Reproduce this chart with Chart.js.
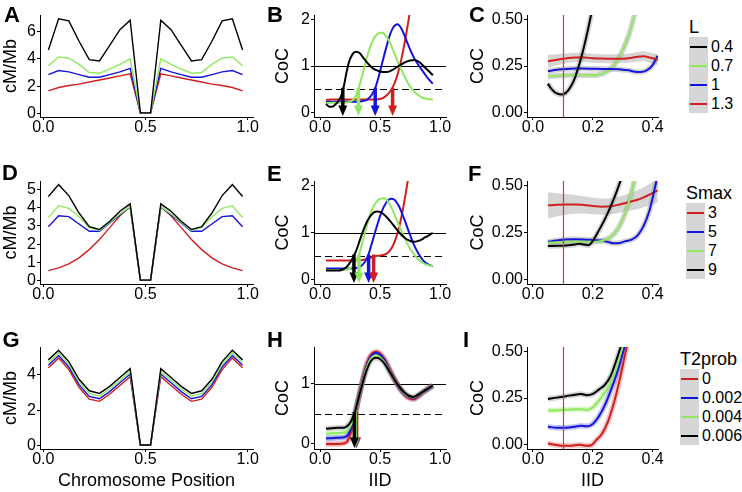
<!DOCTYPE html>
<html>
<head>
<meta charset="utf-8">
<script src="https://cdn.jsdelivr.net/npm/chart.js@4.4.1/dist/chart.umd.min.js"></script>
<style>
    body { margin: 0; background: #fff; }
    #fig { position: relative; width: 742px; height: 492px; overflow: hidden; font-family: "Liberation Sans", Arial, sans-serif; color: #000; }
    #fig canvas { position: absolute; }
    .tag { position: absolute; font-weight: bold; font-size: 22px; line-height: 22px; }
    .lg-title { position: absolute; font-size: 18px; line-height: 18px; }
    .lg-key { position: absolute; background: #d6d6d6; }
    .lg-line { position: absolute; height: 2px; }
    .lg-lab { position: absolute; font-size: 16px; line-height: 16px; }
</style>
</head>
<body>
<div id="fig"></div>
<script>
    // colours of the four parameter levels
    var BLACK = '#000000', GREEN = '#8fe85f', BLUE = '#1414dc', RED = '#d01f1f', VLINE = '#d43a3a';

    // ---- column 1: recombination rate along the chromosome ----
    var chromPos = [0.025, 0.075, 0.125, 0.175, 0.225, 0.275, 0.325, 0.375, 0.425, 0.475,
                    0.525, 0.575, 0.625, 0.675, 0.725, 0.775, 0.825, 0.875, 0.925, 0.975];

    var rateA_04 = [4.65, 6.95, 6.8, 5.3, 3.95, 3.85, 5.0, 6.15, 6.85, 0.03, 0.03, 6.85, 6.15, 5.0, 3.85, 3.95, 5.3, 6.8, 6.95, 4.65];
    var rateA_07 = [3.5, 4.15, 4.05, 3.6, 3.0, 2.95, 3.25, 3.6, 4.0, 0.03, 0.03, 4.0, 3.6, 3.25, 2.95, 3.0, 3.6, 4.05, 4.15, 3.5];
    var rateA_1 = [2.85, 3.15, 3.05, 2.85, 2.65, 2.65, 2.85, 3.05, 3.3, 0.03, 0.03, 3.3, 3.05, 2.85, 2.65, 2.65, 2.85, 3.05, 3.15, 2.85];
    var rateA_13 = [1.65, 1.9, 2.05, 2.15, 2.3, 2.45, 2.6, 2.75, 2.9, 0.03, 0.03, 2.9, 2.75, 2.6, 2.45, 2.3, 2.15, 2.05, 1.9, 1.65];

    var rateD_3 = [0.55, 0.7, 0.92, 1.25, 1.7, 2.25, 2.9, 3.55, 4.05, 0.03, 0.03, 4.05, 3.55, 2.9, 2.25, 1.7, 1.25, 0.92, 0.7, 0.55];
    var rateD_5 = [2.95, 3.55, 3.5, 3.1, 2.7, 2.7, 3.15, 3.6, 4.05, 0.03, 0.03, 4.05, 3.6, 3.15, 2.7, 2.7, 3.1, 3.5, 3.55, 2.95];
    var rateD_7 = [3.45, 4.1, 3.95, 3.5, 2.9, 2.75, 3.2, 3.65, 4.05, 0.03, 0.03, 4.05, 3.65, 3.2, 2.75, 2.9, 3.5, 3.95, 4.1, 3.45];
    var rateD_9 = [4.6, 5.25, 4.65, 3.7, 2.95, 2.8, 3.25, 3.8, 4.2, 0.03, 0.03, 4.2, 3.8, 3.25, 2.8, 2.95, 3.7, 4.65, 5.25, 4.6];

    var rateG_0 = [4.4, 4.95, 4.3, 3.3, 2.62, 2.5, 2.9, 3.4, 3.9, 0.03, 0.03, 3.9, 3.4, 2.9, 2.5, 2.62, 3.3, 4.3, 4.95, 4.4];
    var rateG_002 = [4.55, 5.1, 4.45, 3.45, 2.78, 2.65, 3.05, 3.55, 4.05, 0.03, 0.03, 4.05, 3.55, 3.05, 2.65, 2.78, 3.45, 4.45, 5.1, 4.55];
    var rateG_004 = [4.7, 5.25, 4.6, 3.6, 2.95, 2.8, 3.2, 3.7, 4.2, 0.03, 0.03, 4.2, 3.7, 3.2, 2.8, 2.95, 3.6, 4.6, 5.25, 4.7];
    var rateG_006 = [4.85, 5.4, 4.75, 3.75, 3.1, 2.95, 3.35, 3.85, 4.35, 0.03, 0.03, 4.35, 3.85, 3.35, 2.95, 3.1, 3.75, 4.75, 5.4, 4.85];

    // ---- column 2: CoC against IID, [IID, CoC] ----
    var cocB_04 = [[0.05,0.18],[0.08,0.12],[0.11,0.13],[0.14,0.2],[0.16,0.27],[0.18,0.38],[0.2,0.58],[0.22,0.85],[0.24,1.07],[0.27,1.25],[0.3,1.31],[0.33,1.28],[0.36,1.18],[0.4,1.05],[0.44,0.95],[0.48,0.9],[0.52,0.87],[0.56,0.87],[0.6,0.91],[0.65,0.99],[0.7,1.07],[0.75,1.12],[0.79,1.13],[0.83,1.08],[0.87,0.98],[0.91,0.88],[0.94,0.8]];
    var cocB_07 = [[0.05,0.2],[0.1,0.21],[0.15,0.21],[0.2,0.21],[0.24,0.22],[0.27,0.26],[0.3,0.37],[0.32,0.5],[0.35,0.78],[0.38,1.08],[0.41,1.35],[0.44,1.55],[0.47,1.67],[0.51,1.72],[0.54,1.68],[0.58,1.52],[0.62,1.27],[0.66,1.02],[0.7,0.8],[0.74,0.6],[0.78,0.46],[0.82,0.37],[0.86,0.31],[0.9,0.29],[0.94,0.28]];
    var cocB_1 = [[0.05,0.23],[0.1,0.23],[0.15,0.23],[0.2,0.23],[0.25,0.23],[0.3,0.23],[0.35,0.24],[0.39,0.27],[0.42,0.34],[0.44,0.42],[0.46,0.52],[0.49,0.78],[0.52,1.08],[0.55,1.38],[0.58,1.65],[0.61,1.83],[0.645,1.9],[0.68,1.8],[0.72,1.55],[0.76,1.3],[0.8,1.1],[0.84,0.95],[0.88,0.8],[0.91,0.7],[0.94,0.62]];
    var cocB_13 = [[0.05,0.27],[0.1,0.28],[0.15,0.28],[0.2,0.28],[0.25,0.28],[0.3,0.28],[0.35,0.28],[0.4,0.28],[0.45,0.28],[0.5,0.29],[0.53,0.32],[0.56,0.38],[0.59,0.47],[0.62,0.62],[0.65,0.85],[0.68,1.17],[0.71,1.57],[0.74,2.02],[0.77,2.5]];
    var arrowsB = [0.19, 0.32, 0.46, 0.605];

    var cocE_3 = [[0.05,0.4],[0.1,0.4],[0.15,0.4],[0.2,0.4],[0.25,0.4],[0.3,0.4],[0.35,0.41],[0.4,0.44],[0.45,0.49],[0.5,0.51],[0.54,0.53],[0.57,0.58],[0.6,0.68],[0.63,0.86],[0.66,1.12],[0.69,1.48],[0.72,1.92],[0.75,2.4]];
    var cocE_5 = [[0.05,0.23],[0.1,0.23],[0.15,0.23],[0.2,0.23],[0.25,0.23],[0.3,0.24],[0.34,0.28],[0.37,0.36],[0.4,0.5],[0.43,0.75],[0.47,1.1],[0.51,1.42],[0.55,1.63],[0.59,1.72],[0.62,1.7],[0.66,1.55],[0.7,1.3],[0.74,1.02],[0.78,0.75],[0.82,0.55],[0.86,0.4],[0.9,0.32],[0.94,0.28]];
    var cocE_7 = [[0.05,0.2],[0.1,0.2],[0.15,0.2],[0.2,0.2],[0.24,0.22],[0.27,0.28],[0.3,0.4],[0.32,0.5],[0.35,0.75],[0.38,1.05],[0.42,1.4],[0.46,1.62],[0.5,1.72],[0.53,1.73],[0.57,1.65],[0.61,1.45],[0.65,1.2],[0.69,0.97],[0.73,0.75],[0.77,0.58],[0.81,0.45],[0.85,0.36],[0.89,0.31],[0.94,0.28]];
    var cocE_9 = [[0.05,0.19],[0.1,0.19],[0.15,0.19],[0.18,0.2],[0.21,0.24],[0.24,0.32],[0.27,0.44],[0.3,0.6],[0.33,0.82],[0.36,1.04],[0.4,1.27],[0.44,1.41],[0.47,1.45],[0.5,1.44],[0.54,1.37],[0.58,1.26],[0.62,1.13],[0.66,1.0],[0.7,0.9],[0.74,0.83],[0.78,0.8],[0.82,0.82],[0.86,0.87],[0.9,0.93],[0.94,0.99]];
    var arrowsE = [0.283, 0.325, 0.405, 0.447];

    var cocH_0 = [[0.05,0.0],[0.1,0.0],[0.15,0.0],[0.2,0.01],[0.23,0.05],[0.26,0.2],[0.29,0.45],[0.32,0.74],[0.35,1.02],[0.38,1.27],[0.41,1.43],[0.44,1.51],[0.47,1.53],[0.5,1.5],[0.54,1.4],[0.58,1.24],[0.62,1.08],[0.66,0.94],[0.7,0.83],[0.74,0.76],[0.78,0.74],[0.82,0.79],[0.86,0.86],[0.9,0.92],[0.94,0.97]];
    var cocH_002 = [[0.05,0.09],[0.1,0.095],[0.15,0.1],[0.2,0.11],[0.23,0.14],[0.26,0.27],[0.29,0.48],[0.32,0.75],[0.35,1.01],[0.38,1.24],[0.41,1.4],[0.44,1.49],[0.47,1.51],[0.5,1.48],[0.54,1.38],[0.58,1.22],[0.62,1.07],[0.66,0.94],[0.7,0.84],[0.74,0.78],[0.78,0.76],[0.82,0.8],[0.86,0.86],[0.9,0.91],[0.94,0.97]];
    var cocH_004 = [[0.05,0.17],[0.1,0.175],[0.15,0.18],[0.2,0.19],[0.23,0.22],[0.26,0.32],[0.29,0.5],[0.32,0.75],[0.35,1.0],[0.38,1.22],[0.41,1.37],[0.44,1.45],[0.47,1.47],[0.5,1.44],[0.54,1.35],[0.58,1.21],[0.62,1.07],[0.66,0.95],[0.7,0.85],[0.74,0.79],[0.78,0.77],[0.82,0.81],[0.86,0.86],[0.9,0.92],[0.94,0.97]];
    var cocH_006 = [[0.05,0.25],[0.1,0.26],[0.15,0.27],[0.2,0.27],[0.23,0.3],[0.26,0.38],[0.29,0.52],[0.32,0.75],[0.35,0.98],[0.38,1.18],[0.41,1.33],[0.44,1.41],[0.47,1.43],[0.5,1.41],[0.54,1.33],[0.58,1.2],[0.62,1.07],[0.66,0.95],[0.7,0.86],[0.74,0.8],[0.78,0.78],[0.82,0.82],[0.86,0.87],[0.9,0.92],[0.94,0.97]];
    var arrowsH = [0.305, 0.3, 0.295, 0.287];

    var cocRef = 1, cocHalf = 0.5, arrowTop = 0.53;

    // ---- column 3: CoC at small IID ----
    var cocC_04 = [[0.05,0.155],[0.06,0.13],[0.07,0.113],[0.08,0.102],[0.095,0.096],[0.11,0.105],[0.125,0.135],[0.14,0.185],[0.155,0.26],[0.17,0.35],[0.185,0.455],[0.2,0.57]];
    var cocC_07 = [[0.05,0.193],[0.08,0.197],[0.11,0.2],[0.14,0.201],[0.17,0.2],[0.2,0.2],[0.22,0.203],[0.24,0.213],[0.26,0.235],[0.28,0.275],[0.3,0.335],[0.32,0.415],[0.335,0.5],[0.35,0.6]];
    var cocC_1 = [[0.05,0.222],[0.08,0.23],[0.11,0.234],[0.14,0.236],[0.17,0.236],[0.2,0.235],[0.23,0.234],[0.26,0.234],[0.29,0.232],[0.32,0.227],[0.34,0.219],[0.36,0.217],[0.38,0.226],[0.4,0.255],[0.417,0.305]];
    var cocC_13 = [[0.05,0.275],[0.08,0.284],[0.11,0.291],[0.14,0.296],[0.17,0.296],[0.2,0.292],[0.23,0.29],[0.26,0.289],[0.29,0.289],[0.32,0.292],[0.35,0.3],[0.37,0.302],[0.39,0.296],[0.417,0.283]];
    var bandC_13 = [0.035, 0.03, 0.027, 0.025, 0.024, 0.024, 0.024, 0.024, 0.024, 0.025, 0.026, 0.027, 0.028, 0.03];

    var cocF_3 = [[0.05,0.395],[0.08,0.398],[0.11,0.4],[0.14,0.4],[0.17,0.397],[0.2,0.392],[0.23,0.388],[0.26,0.39],[0.29,0.4],[0.32,0.412],[0.35,0.425],[0.38,0.445],[0.4,0.46],[0.417,0.475]];
    var bandF_3 = [0.07, 0.062, 0.055, 0.05, 0.046, 0.044, 0.043, 0.043, 0.044, 0.046, 0.05, 0.055, 0.06, 0.065];
    var cocF_5 = [[0.05,0.2],[0.08,0.207],[0.11,0.212],[0.14,0.214],[0.17,0.213],[0.2,0.21],[0.23,0.207],[0.25,0.2],[0.27,0.192],[0.29,0.194],[0.31,0.204],[0.33,0.212],[0.35,0.235],[0.37,0.285],[0.39,0.37],[0.405,0.47],[0.42,0.58]];
    var cocF_7 = [[0.05,0.195],[0.08,0.198],[0.11,0.2],[0.14,0.2],[0.17,0.2],[0.2,0.2],[0.22,0.202],[0.24,0.21],[0.26,0.226],[0.28,0.26],[0.3,0.32],[0.32,0.41],[0.335,0.5],[0.35,0.6]];
    var cocF_9 = [[0.05,0.178],[0.08,0.179],[0.11,0.181],[0.14,0.186],[0.155,0.19],[0.17,0.186],[0.185,0.182],[0.2,0.205],[0.22,0.26],[0.24,0.32],[0.26,0.39],[0.28,0.47],[0.3,0.56]];

    var cocI_0 = [[0.05,0.005],[0.08,-0.004],[0.1,-0.008],[0.13,-0.007],[0.155,-0.002],[0.18,-0.008],[0.195,-0.005],[0.21,0.02],[0.23,0.055],[0.25,0.12],[0.27,0.22],[0.29,0.35],[0.31,0.5],[0.33,0.64]];
    var cocI_002 = [[0.05,0.095],[0.08,0.09],[0.11,0.09],[0.14,0.095],[0.16,0.1],[0.18,0.097],[0.2,0.11],[0.22,0.15],[0.24,0.21],[0.26,0.29],[0.28,0.38],[0.3,0.49],[0.315,0.58]];
    var cocI_004 = [[0.05,0.182],[0.08,0.183],[0.11,0.186],[0.14,0.19],[0.16,0.19],[0.18,0.185],[0.2,0.2],[0.22,0.235],[0.24,0.28],[0.26,0.33],[0.28,0.42],[0.3,0.53]];
    var cocI_006 = [[0.05,0.245],[0.08,0.252],[0.11,0.26],[0.14,0.268],[0.16,0.272],[0.18,0.265],[0.2,0.272],[0.22,0.295],[0.24,0.32],[0.26,0.37],[0.28,0.46],[0.3,0.56]];

    var iidCutoff = 0.1;

    // ---- axis ranges and ticks ----
    var posRange = [-0.016, 1.026], iidRange = [-0.05, 1.05], smallRange = [-0.02, 0.418];
    var posTicks = [0, 0.5, 1], posLabels = ['0.0', '0.5', '1.0'];
    var smallTicks = [0, 0.2, 0.4], smallLabels = ['0.0', '0.2', '0.4'];
    var rangeA = [-0.27, 7.23], ticksA = [0, 2, 4, 6];
    var rangeD = [-0.18, 5.45], ticksD = [0, 1, 2, 3, 4, 5];
    var rangeG = [-0.2, 5.58], ticksG = [0, 2, 4];
    var rangeBE = [-0.1, 2.1], ticksBE = [0, 1, 2];
    var rangeH = [-0.085, 1.61], ticksH = [0, 1];
    var rangeSmall = [-0.025, 0.525], ticksSmall = [0, 0.25, 0.5], labelsSmall = ['0.00', '0.25', '0.50'];

    // ---- legends ----
    var legL = { title: 'L', labels: ['0.4', '0.7', '1', '1.3'], colors: [BLACK, GREEN, BLUE, RED] };
    var legSmax = { title: 'Smax', labels: ['3', '5', '7', '9'], colors: [RED, BLUE, GREEN, BLACK] };
    var legT2 = { title: 'T2prob', labels: ['0', '0.002', '0.004', '0.006'], colors: [RED, BLUE, GREEN, BLACK] };

    var fig = document.getElementById('fig');
    var FONT = '"Liberation Sans", Arial, sans-serif';

    function rateSeries(vals, color, order) {
        return {
            data: chromPos.map(function(x, i) { return { x: x, y: vals[i] }; }),
            borderColor: color, borderWidth: 1.4, pointRadius: 0, fill: false, tension: 0, order: order
        };
    }

    function curve(points, color, width, order) {
        return {
            data: points.map(function(p) { return { x: p[0], y: p[1] }; }),
            borderColor: color, borderWidth: width, pointRadius: 0, fill: false,
            cubicInterpolationMode: 'monotone', order: order
        };
    }

    // wide translucent line under a curve, stands in for a thin smoothing band
    function halo(points, color, order) {
        return curve(points, color, 5.5, order);
    }

    // grey confidence band: upper line filled down to the lower one
    function band(points, half) {
        var up = curve(points.map(function(p, i) { return [p[0], p[1] + half[i]]; }), 'rgba(0,0,0,0)', 0, 30);
        var lo = curve(points.map(function(p, i) { return [p[0], p[1] - half[i]]; }), 'rgba(0,0,0,0)', 0, 30);
        up.fill = '+1';
        up.backgroundColor = 'rgba(150,150,150,0.4)';
        return [up, lo];
    }

    // reference lines (CoC = 1 / 0.5, IID cutoff), pixel-snapped so they stay crisp
    var refPlugin = {
        id: 'refs',
        beforeDatasetsDraw: function(chart, args, opts) {
            var ctx = chart.ctx, a = chart.chartArea, ys = chart.scales.y;
            (opts.h || []).forEach(function(h) {
                var py = Math.round(ys.getPixelForValue(h.y)) + 0.5;
                ctx.save();
                ctx.strokeStyle = '#000';
                ctx.lineWidth = 1;
                ctx.setLineDash(h.dash);
                ctx.beginPath();
                ctx.moveTo(a.left, py);
                ctx.lineTo(a.right, py);
                ctx.stroke();
                ctx.restore();
            });
        },
        afterDatasetsDraw: function(chart, args, opts) {
            var ctx = chart.ctx, a = chart.chartArea, xs = chart.scales.x;
            (opts.v || []).forEach(function(v) {
                var px = Math.round(xs.getPixelForValue(v)) + 0.5;
                ctx.save();
                ctx.strokeStyle = VLINE;
                ctx.lineWidth = 1.2;
                ctx.beginPath();
                ctx.moveTo(px, a.top);
                ctx.lineTo(px, a.bottom);
                ctx.stroke();
                ctx.restore();
            });
        }
    };

    // thick down arrows from CoC = 0.5 to the x axis
    var arrowPlugin = {
        id: 'arrows',
        afterDatasetsDraw: function(chart, args, opts) {
            if (!opts.items) return;
            var ctx = chart.ctx;
            var xs = chart.scales.x, ys = chart.scales.y;
            var top = ys.getPixelForValue(arrowTop);
            var tip = chart.chartArea.bottom - 1;
            opts.items.forEach(function(a) {
                var px = xs.getPixelForValue(a.x);
                ctx.save();
                ctx.strokeStyle = a.color;
                ctx.fillStyle = a.color;
                ctx.lineWidth = 3.5;
                ctx.beginPath();
                ctx.moveTo(px, top);
                ctx.lineTo(px, tip - 8);
                ctx.stroke();
                ctx.beginPath();
                ctx.moveTo(px - 4.5, tip - 10.5);
                ctx.lineTo(px + 4.5, tip - 10.5);
                ctx.lineTo(px, tip);
                ctx.closePath();
                ctx.fill();
                ctx.restore();
            });
        }
    };

    function scaleOpts(range, ticks, labels, size, sizeKey, title) {
        return {
            type: 'linear',
            min: range[0],
            max: range[1],
            afterBuildTicks: function(s) { s.ticks = ticks.map(function(v) { return { value: v }; }); },
            afterFit: function(s) { s[sizeKey] = size; },
            grid: { display: true, drawOnChartArea: false, drawTicks: true, tickLength: 3, color: '#000', lineWidth: 1 },
            border: { display: true, color: '#000', width: 1 },
            ticks: {
                color: '#000', padding: sizeKey === 'width' ? 1 : 0, maxRotation: 0, autoSkip: false,
                font: { family: FONT, size: 16, lineHeight: 1 },
                callback: function(v, i) { return labels[i]; }
            },
            title: { display: !!title, text: title || '', color: '#000', padding: 0, font: { family: FONT, size: 18 } }
        };
    }

    function panel(p) {
        var c = document.createElement('canvas');
        c.width = p.w;
        c.height = p.h;
        c.style.left = p.left + 'px';
        c.style.top = p.top + 'px';
        c.style.width = p.w + 'px';
        c.style.height = p.h + 'px';
        fig.appendChild(c);

        new Chart(c.getContext('2d'), {
            type: 'line',
            data: { datasets: p.datasets },
            options: {
                responsive: false,
                animation: false,
                devicePixelRatio: 1,
                events: [],
                layout: { padding: { top: 10, right: 15, bottom: 0, left: 0 } },
                scales: {
                    x: scaleOpts(p.xr, p.xt, p.xl, p.xh, 'height', p.xTitle),
                    y: scaleOpts(p.yr, p.yt, p.yl || p.yt.map(String), p.yw, 'width', p.yTitle)
                },
                plugins: {
                    legend: { display: false },
                    tooltip: { enabled: false },
                    arrows: { items: p.arrows || null },
                    refs: { h: p.hlines || [], v: p.vlines || [] }
                }
            },
            plugins: [refPlugin, arrowPlugin]
        });
    }

    function tag(text, left, top) {
        var d = document.createElement('div');
        d.className = 'tag';
        d.textContent = text;
        d.style.left = left + 'px';
        d.style.top = top + 'px';
        fig.appendChild(d);
    }

    function legend(lg, left, top) {
        var t = document.createElement('div');
        t.className = 'lg-title';
        t.textContent = lg.title;
        t.style.left = left + 'px';
        t.style.top = (top - 19) + 'px';
        fig.appendChild(t);

        var key = document.createElement('div');
        key.className = 'lg-key';
        key.style.left = left + 'px';
        key.style.top = top + 'px';
        key.style.width = '19px';
        key.style.height = (19 * lg.labels.length) + 'px';
        fig.appendChild(key);

        for (var i = 0; i < lg.labels.length; i++) {
            var cy = top + 19 * i + 9.5;
            var ln = document.createElement('div');
            ln.className = 'lg-line';
            ln.style.left = (left + 1) + 'px';
            ln.style.width = '17px';
            ln.style.top = (cy - 1) + 'px';
            ln.style.background = lg.colors[i];
            fig.appendChild(ln);

            var lab = document.createElement('div');
            lab.className = 'lg-lab';
            lab.textContent = lg.labels[i];
            lab.style.left = (left + 22) + 'px';
            lab.style.top = (cy - 7.9) + 'px';
            fig.appendChild(lab);
        }
    }

    function arrowItems(xs, colors) {
        return xs.map(function(x, i) { return { x: x, color: colors[i] }; });
    }

    function withAlpha(hex, a) {
        var n = parseInt(hex.slice(1), 16);
        return 'rgba(' + (n >> 16) + ',' + ((n >> 8) & 255) + ',' + (n & 255) + ',' + a + ')';
    }

    // geometry of the three columns and rows
    var col1 = { left: 0, w: 268, yw: 40 };
    var col2 = { left: 272, w: 189, yw: 42 };
    var col3 = { left: 467, w: 206, yw: 60 };
    var row1 = { top: 5, h: 137, xh: 25 };
    var row2 = { top: 171, h: 138, xh: 25 };
    var row3 = { top: 337, h: 155, xh: 43 };

    function place(col, row, extra) {
        var p = { left: col.left, w: col.w, yw: col.yw, top: row.top, h: row.h, xh: row.xh };
        for (var k in extra) p[k] = extra[k];
        return p;
    }

    var grey = 'rgba(160,160,160,0.45)';
    var cocLines = [{ y: cocRef, dash: [] }, { y: cocHalf, dash: [7, 4] }];

    // A
    panel(place(col1, row1, {
        xr: posRange, xt: posTicks, xl: posLabels, yr: rangeA, yt: ticksA, yTitle: 'cM/Mb',
        datasets: [rateSeries(rateA_13, RED, 4), rateSeries(rateA_1, BLUE, 3), rateSeries(rateA_07, GREEN, 2), rateSeries(rateA_04, BLACK, 1)]
    }));
    // D
    panel(place(col1, row2, {
        xr: posRange, xt: posTicks, xl: posLabels, yr: rangeD, yt: ticksD, yTitle: 'cM/Mb',
        datasets: [rateSeries(rateD_3, RED, 4), rateSeries(rateD_5, BLUE, 3), rateSeries(rateD_7, GREEN, 2), rateSeries(rateD_9, BLACK, 1)]
    }));
    // G
    panel(place(col1, row3, {
        xr: posRange, xt: posTicks, xl: posLabels, yr: rangeG, yt: ticksG, yTitle: 'cM/Mb', xTitle: 'Chromosome Position',
        datasets: [rateSeries(rateG_0, RED, 4), rateSeries(rateG_002, BLUE, 3), rateSeries(rateG_004, GREEN, 2), rateSeries(rateG_006, BLACK, 1)]
    }));

    // B
    panel(place(col2, row1, {
        xr: iidRange, xt: posTicks, xl: posLabels, yr: rangeBE, yt: ticksBE, yTitle: 'CoC',
        hlines: cocLines, arrows: arrowItems(arrowsB, [BLACK, GREEN, BLUE, RED]),
        datasets: [curve(cocB_13, RED, 2, 4), curve(cocB_1, BLUE, 2, 3), curve(cocB_07, GREEN, 2, 2), curve(cocB_04, BLACK, 2, 1)]
    }));
    // E
    panel(place(col2, row2, {
        xr: iidRange, xt: posTicks, xl: posLabels, yr: rangeBE, yt: ticksBE, yTitle: 'CoC',
        hlines: cocLines, arrows: arrowItems(arrowsE, [BLACK, GREEN, BLUE, RED]),
        datasets: [curve(cocE_3, RED, 2, 4), curve(cocE_5, BLUE, 2, 3), curve(cocE_7, GREEN, 2, 2), curve(cocE_9, BLACK, 2, 1)]
    }));
    // H
    panel(place(col2, row3, {
        xr: iidRange, xt: posTicks, xl: posLabels, yr: rangeH, yt: ticksH, yTitle: 'CoC', xTitle: 'IID',
        hlines: cocLines, arrows: arrowItems(arrowsH, [RED, BLUE, GREEN, BLACK]),
        datasets: [
            halo(cocH_0, withAlpha(RED, 0.3), 20), halo(cocH_002, withAlpha(BLUE, 0.3), 20),
            halo(cocH_004, withAlpha(GREEN, 0.3), 20), halo(cocH_006, grey, 20),
            curve(cocH_0, RED, 2, 4), curve(cocH_002, BLUE, 2, 3), curve(cocH_004, GREEN, 2, 2), curve(cocH_006, BLACK, 2, 1)]
    }));

    // C
    panel(place(col3, row1, {
        xr: smallRange, xt: smallTicks, xl: smallLabels, yr: rangeSmall, yt: ticksSmall, yl: labelsSmall, yTitle: 'CoC',
        vlines: [iidCutoff],
        datasets: band(cocC_13, bandC_13).concat([
            halo(cocC_1, grey, 20), halo(cocC_07, grey, 20), halo(cocC_04, grey, 20),
            curve(cocC_13, RED, 2, 2), curve(cocC_1, BLUE, 2, 3), curve(cocC_07, GREEN, 2, 4), curve(cocC_04, BLACK, 2, 1)])
    }));
    // F
    panel(place(col3, row2, {
        xr: smallRange, xt: smallTicks, xl: smallLabels, yr: rangeSmall, yt: ticksSmall, yl: labelsSmall, yTitle: 'CoC',
        vlines: [iidCutoff],
        datasets: band(cocF_3, bandF_3).concat([
            halo(cocF_5, grey, 20), halo(cocF_7, grey, 20), halo(cocF_9, grey, 20),
            curve(cocF_3, RED, 2, 4), curve(cocF_5, BLUE, 2, 3), curve(cocF_7, GREEN, 2, 2), curve(cocF_9, BLACK, 2, 1)])
    }));
    // I
    panel(place(col3, row3, {
        xr: smallRange, xt: smallTicks, xl: smallLabels, yr: rangeSmall, yt: ticksSmall, yl: labelsSmall, yTitle: 'CoC', xTitle: 'IID',
        vlines: [iidCutoff],
        datasets: [
            halo(cocI_0, withAlpha(RED, 0.25), 20), halo(cocI_002, withAlpha(BLUE, 0.25), 20),
            halo(cocI_004, withAlpha(GREEN, 0.35), 20), halo(cocI_006, grey, 20),
            curve(cocI_0, RED, 2, 4), curve(cocI_002, BLUE, 2, 3), curve(cocI_004, GREEN, 2, 2), curve(cocI_006, BLACK, 2, 1)]
    }));

    tag('A', 4, 4); tag('B', 267, 4); tag('C', 469, 4);
    tag('D', 2, 162); tag('E', 267, 163); tag('F', 468, 163);
    tag('G', 2.5, 329); tag('H', 267, 329); tag('I', 463, 329);

    legend(legL, 689, 37);
    legend(legSmax, 686, 203);
    legend(legT2, 680, 369);
</script>
</body>
</html>
